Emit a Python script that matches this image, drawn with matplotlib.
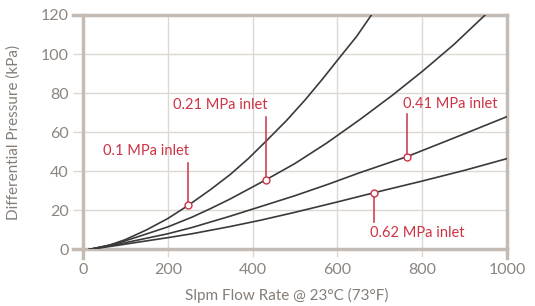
import numpy as np
import matplotlib
matplotlib.use("Agg")
import matplotlib.pyplot as plt

plt.rcParams['font.family'] = ['Lato', 'DejaVu Sans']

# Curvas (flujo slpm, presión diferencial kPa).
x_01 = [15, 60, 100, 150, 200, 248, 300, 347, 390, 433, 480, 524, 565, 606, 645, 680]
y_01 = [0, 2, 5, 10, 15.8, 22.5, 30.5, 38.3, 46.5, 55.7, 66, 76.6, 87.3, 98.5, 109, 120]

x_021 = [15, 80, 130, 200, 257, 300, 347, 432, 500, 575, 653, 730, 802, 875, 948]
y_021 = [0, 3, 6.5, 11.5, 16.5, 20.8, 25.8, 35.7, 44, 54.5, 66.5, 79, 91.5, 105, 120]

x_041 = [15, 80, 130, 200, 257, 347, 420, 500, 580, 653, 764, 880, 1000]
y_041 = [0, 2.5, 4.8, 8, 11.2, 17, 22, 27.5, 33.5, 39.3, 47.5, 57.5, 68]

x_062 = [15, 80, 130, 200, 257, 347, 420, 500, 600, 686, 800, 900, 1000]
y_062 = [0, 2, 3.7, 6, 8, 11.7, 15, 19, 24.3, 29, 35, 40.5, 46.5]

# Etiquetas: texto, punto marcado, extremo de la línea, altura del texto, alineación
labels = ["0.1 MPa inlet", "0.21 MPa inlet", "0.41 MPa inlet", "0.62 MPa inlet"]
mark_x = [248, 432, 764, 686]
mark_y = [22.5, 35.7, 47.5, 29]
line_end = [44.2, 67.7, 69.2, 14]
text_y = [50.3, 73.8, 74.6, 8.4]
text_ha = ["right", "right", "left", "left"]

xticks = [0, 200, 400, 600, 800, 1000]
yticks = [0, 20, 40, 60, 80, 100, 120]

frame = "#c4bcb4"
gridc = "#ded8d3"
tickc = "#8c847e"
red = "#cc3344"
curve = "#3a3a3a"

fig = plt.figure(figsize=(5.35, 3.06), dpi=100)
ax = fig.add_axes([0.155, 0.185, 0.793, 0.766])

for xs, ys in [(x_01, y_01), (x_021, y_021), (x_041, y_041), (x_062, y_062)]:
    ax.plot(xs, ys, color=curve, lw=1.2, zorder=3)

for lab, mx, my, le, ty, ha in zip(labels, mark_x, mark_y, line_end, text_y, text_ha):
    ax.plot([mx, mx], [my, le], color=red, lw=1.1, zorder=4)
    ax.plot(mx, my, "o", ms=5, mfc="white", mec=red, mew=1.0, zorder=5)
    dx = 2 if ha == "right" else -10
    ax.text(mx + dx, ty, lab, color=red, fontsize=10.5, ha=ha, va="center", zorder=5)

ax.set_xlim(0, 1000)
ax.set_ylim(0, 120)
ax.set_xticks(xticks)
ax.set_yticks(yticks)
ax.grid(True, color=gridc, lw=1)
ax.set_axisbelow(True)
for s in ax.spines.values():
    s.set_visible(False)
ax.tick_params(axis="both", colors=gridc, labelcolor=tickc, labelsize=11.5, width=1)
ax.tick_params(axis="y", length=7.2, pad=3)
ax.tick_params(axis="x", length=6, pad=4)

# Marco grueso con pequeñas extensiones.
ax.axhline(0, xmin=-0.0236, xmax=1, color=frame, lw=2.5, clip_on=False, zorder=2)
ax.axhline(120, xmin=-0.0236, xmax=1, color=frame, lw=2.5, clip_on=False, zorder=2)
ax.axvline(0, ymin=-0.036, ymax=1, color=frame, lw=2.5, clip_on=False, zorder=2)
ax.axvline(1000, ymin=-0.036, ymax=1, color=frame, lw=2.5, clip_on=False, zorder=2)

ax.set_xlabel("Slpm Flow Rate @ 23°C (73°F)", color="#857d77", fontsize=11)
ax.set_ylabel("Differential Pressure (kPa)", color="#857d77", fontsize=11)
ax.xaxis.set_label_coords(0.48, -0.165)
ax.yaxis.set_label_coords(-0.147, 0.5)

fig.savefig("out.png", dpi=100)
